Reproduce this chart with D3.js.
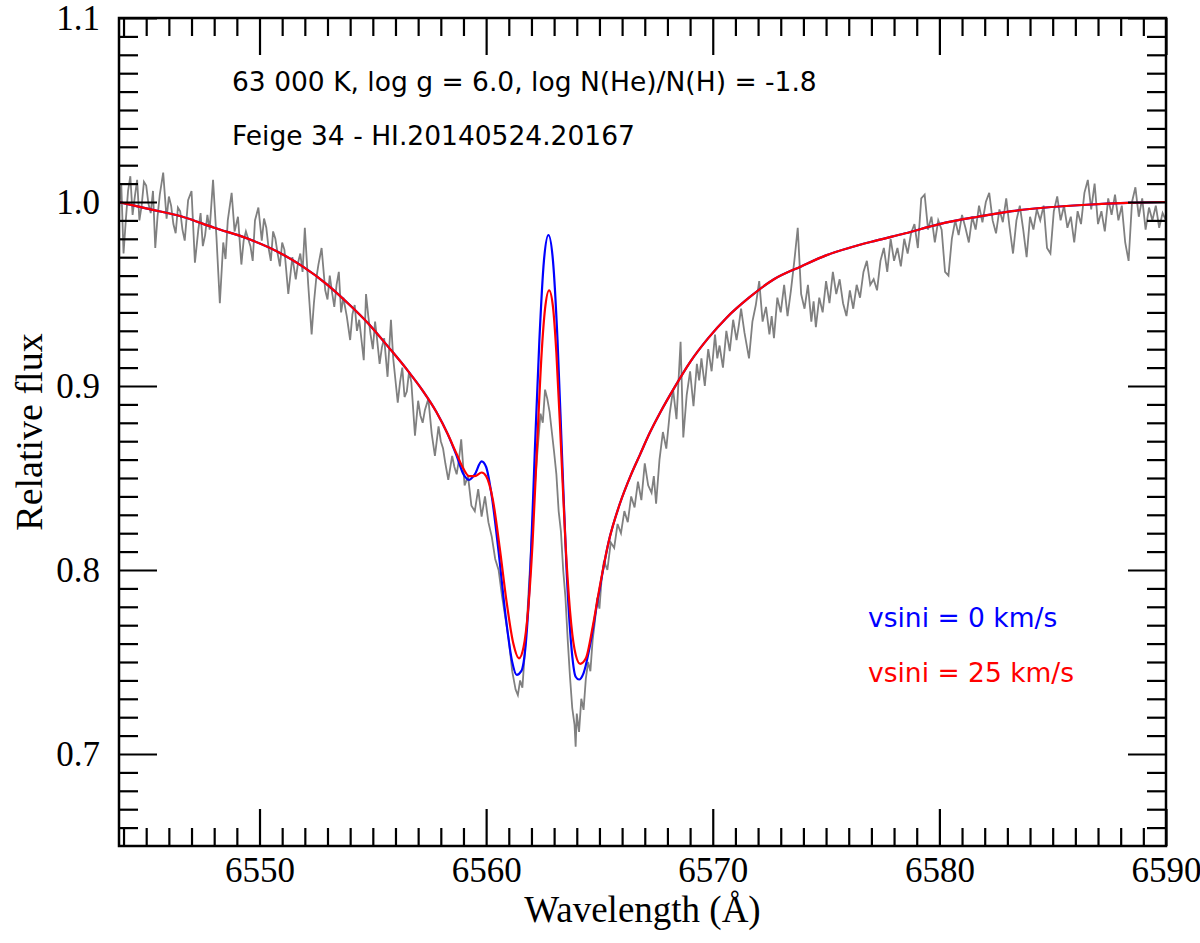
<!DOCTYPE html>
<html><head><meta charset="utf-8">
<script src="https://cdn.jsdelivr.net/npm/d3@7"></script>
<style>body{margin:0;background:#fff}svg{display:block}</style>
</head><body>
<script>
// ---- data ----
const xDomain = [6543.8, 6590];
const yDomain = [0.65, 1.1];
const xMajorTicks = [6550, 6560, 6570, 6580, 6590];
const yMajorTicks = [0.7, 0.8, 0.9, 1.0, 1.1];
const yTickLabels = ["0.7", "0.8", "0.9", "1.0", "1.1"];
const xLabel = "Wavelength (Å)";
const yLabel = "Relative flux";
const annotation1 = "63 000 K, log g = 6.0, log N(He)/N(H) = -1.8";
const annotation2 = "Feige 34 - HI.20140524.20167";
const legendLabels = ["vsini = 0 km/s", "vsini = 25 km/s"];

const observed = [
[6543.8,0.996],[6543.9,1.010],[6544.0,0.972],[6544.1,0.990],[6544.2,1.006],[6544.3,1.014],[6544.4,0.993],[6544.5,1.003],[6544.6,1.012],[6544.7,0.990],[6544.8,0.998],[6544.9,1.011],[6545.0,1.009],[6545.1,0.999],[6545.2,0.994],[6545.3,1.006],
[6545.4,0.975],[6545.5,0.992],[6545.6,1.004],[6545.75,1.016],[6545.9,0.991],[6546.0,1.003],[6546.1,0.998],[6546.2,0.988],[6546.3,0.983],[6546.4,0.997],[6546.5,0.995],[6546.6,0.985],[6546.7,0.979],
[6546.85,1.001],[6547.0,1.006],[6547.15,0.967],[6547.3,0.985],[6547.4,0.994],[6547.5,0.976],[6547.6,0.982],[6547.7,0.993],[6547.8,0.985],[6547.95,1.012],[6548.1,0.981],
[6548.25,0.945],[6548.4,0.978],[6548.5,0.969],[6548.6,0.990],[6548.77,1.005],[6548.9,0.984],[6549.05,0.992],[6549.2,0.966],[6549.3,0.979],[6549.4,0.984],
[6549.6,0.976],[6549.7,0.968],[6549.8,0.990],[6549.95,0.997],[6550.1,0.979],[6550.2,0.991],[6550.3,0.986],[6550.4,0.975],[6550.5,0.968],[6550.6,0.984],[6550.7,0.980],[6550.8,0.972],[6550.9,0.965],
[6551.0,0.978],[6551.1,0.974],[6551.27,0.950],[6551.45,0.970],[6551.6,0.958],[6551.7,0.967],[6551.8,0.972],[6551.9,0.962],[6552.0,0.986],[6552.15,0.955],[6552.3,0.928],
[6552.4,0.945],[6552.5,0.958],[6552.6,0.966],[6552.74,0.975],[6552.9,0.952],[6553.0,0.947],[6553.1,0.960],[6553.2,0.951],[6553.3,0.943],[6553.4,0.955],[6553.5,0.962],[6553.6,0.940],[6553.7,0.948],[6553.85,0.938],
[6554.0,0.925],[6554.1,0.939],[6554.2,0.944],[6554.3,0.930],[6554.4,0.936],[6554.5,0.925],[6554.6,0.914],[6554.7,0.950],[6554.8,0.938],[6554.9,0.928],[6555.0,0.920],[6555.1,0.935],[6555.2,0.924],[6555.3,0.912],
[6555.4,0.921],[6555.5,0.926],[6555.65,0.905],[6555.8,0.936],[6555.9,0.915],[6556.0,0.903],[6556.1,0.891],[6556.2,0.902],[6556.3,0.910],[6556.4,0.894],[6556.5,0.897],[6556.6,0.908],[6556.7,0.902],
[6556.86,0.873],[6557.0,0.892],[6557.1,0.884],[6557.2,0.880],[6557.3,0.887],[6557.45,0.893],[6557.6,0.874],[6557.74,0.862],[6557.9,0.878],[6558.0,0.870],[6558.1,0.866],[6558.2,0.858],
[6558.33,0.849],[6558.5,0.862],[6558.6,0.856],[6558.7,0.852],[6558.8,0.860],[6558.9,0.871],[6559.05,0.846],[6559.2,0.851],[6559.35,0.835],[6559.5,0.832],
[6559.65,0.844],[6559.8,0.829],[6559.95,0.840],[6560.1,0.826],[6560.25,0.818],[6560.4,0.806],[6560.55,0.800],[6560.7,0.786],
[6560.85,0.774],[6561.0,0.762],[6561.15,0.745],[6561.3,0.735],[6561.4,0.732],[6561.5,0.740],[6561.6,0.736],[6561.7,0.754],
[6561.8,0.772],[6561.9,0.794],[6562.0,0.815],[6562.1,0.838],[6562.2,0.854],[6562.3,0.870],[6562.4,0.885],[6562.5,0.880],
[6562.6,0.898],[6562.7,0.893],[6562.8,0.886],[6562.9,0.875],[6563.0,0.864],[6563.1,0.852],[6563.2,0.832],[6563.3,0.821],
[6563.4,0.800],[6563.5,0.785],[6563.6,0.762],[6563.7,0.742],[6563.8,0.725],[6563.9,0.716],[6563.95,0.704],[6564.0,0.722],
[6564.1,0.712],[6564.2,0.730],[6564.3,0.724],[6564.4,0.741],[6564.5,0.750],[6564.6,0.745],[6564.7,0.762],[6564.8,0.772],
[6564.9,0.785],[6565.0,0.779],[6565.1,0.796],[6565.2,0.805],[6565.35,0.800],[6565.5,0.815],[6565.65,0.812],[6565.8,0.825],
[6565.95,0.820],[6566.1,0.832],[6566.25,0.826],[6566.4,0.840],[6566.55,0.834],[6566.7,0.848],[6566.85,0.838],[6567.0,0.858],
[6567.15,0.846],[6567.3,0.842],[6567.4,0.851],[6567.5,0.836],[6567.65,0.860],[6567.8,0.875],[6567.95,0.866],[6568.1,0.885],[6568.25,0.898],
[6568.4,0.882],[6568.58,0.924],[6568.7,0.872],[6568.85,0.895],[6569.0,0.908],[6569.15,0.889],[6569.3,0.912],[6569.4,0.903],[6569.5,0.915],
[6569.65,0.900],[6569.8,0.920],[6569.95,0.908],[6570.1,0.928],[6570.2,0.915],[6570.3,0.922],[6570.45,0.910],[6570.6,0.930],[6570.75,0.919],
[6570.9,0.936],[6571.05,0.925],[6571.15,0.933],[6571.25,0.942],[6571.4,0.929],[6571.6,0.915],[6571.75,0.935],[6571.9,0.944],[6572.05,0.957],
[6572.2,0.935],[6572.35,0.943],[6572.5,0.928],[6572.6,0.938],[6572.7,0.926],[6572.85,0.948],[6573.0,0.940],[6573.15,0.955],[6573.3,0.938],
[6573.45,0.952],[6573.6,0.968],[6573.75,0.986],[6573.9,0.950],[6574.05,0.942],[6574.2,0.955],[6574.35,0.935],[6574.45,0.946],[6574.55,0.932],
[6574.7,0.948],[6574.85,0.940],[6575.0,0.957],[6575.15,0.945],[6575.3,0.962],[6575.45,0.950],[6575.6,0.958],[6575.75,0.945],
[6575.9,0.938],[6576.05,0.952],[6576.2,0.942],[6576.35,0.955],[6576.5,0.948],[6576.65,0.962],[6576.8,0.968],[6576.95,0.955],
[6577.1,0.958],[6577.25,0.952],[6577.4,0.968],[6577.55,0.975],[6577.7,0.962],[6577.85,0.980],[6578.0,0.968],[6578.15,0.975],
[6578.3,0.965],[6578.45,0.980],[6578.6,0.972],[6578.75,0.983],[6578.9,0.988],[6579.05,0.975],[6579.2,1.002],[6579.35,1.004],
[6579.5,0.985],[6579.65,0.992],[6579.8,0.978],[6579.95,0.990],[6580.1,0.985],[6580.25,0.962],[6580.4,0.960],[6580.55,0.980],
[6580.7,0.990],[6580.85,0.982],[6581.0,0.993],[6581.15,0.986],[6581.3,0.978],[6581.45,0.992],[6581.6,0.985],[6581.75,0.998],
[6581.9,0.989],[6582.05,1.000],[6582.2,1.005],[6582.35,0.990],[6582.5,0.983],[6582.65,0.996],[6582.8,0.989],[6582.95,1.002],
[6583.1,0.986],[6583.25,0.972],[6583.4,0.990],[6583.55,0.998],[6583.7,0.985],[6583.85,0.970],[6584.0,0.992],[6584.15,0.985],
[6584.3,0.996],[6584.45,0.990],[6584.6,0.998],[6584.75,0.975],[6584.9,0.972],[6585.05,0.995],[6585.2,1.003],[6585.35,0.990],
[6585.5,0.998],[6585.65,0.986],[6585.8,0.992],[6585.95,0.978],[6586.1,0.995],[6586.25,0.988],[6586.4,1.005],[6586.55,1.012],
[6586.7,0.996],[6586.85,1.010],[6587.0,0.988],[6587.15,0.995],[6587.3,0.984],[6587.45,1.002],[6587.6,0.993],[6587.75,1.004],
[6587.9,0.990],[6588.05,0.998],[6588.2,0.978],[6588.35,0.968],[6588.5,1.000],[6588.65,1.008],[6588.8,0.992],[6588.95,1.002],
[6589.1,0.985],[6589.25,0.997],[6589.4,0.990],[6589.55,0.998],[6589.7,0.986],[6589.85,0.994],[6590.0,0.990]
];

const modelV25 = [
[6543.8,1.000],[6545.0,0.9965],[6546.6,0.992],[6548.0,0.986],[6549.5,0.980],[6550.8,0.973],[6551.9,0.965],[6553.0,0.955],
[6553.9,0.945],[6554.8,0.934],[6555.7,0.921],[6556.5,0.909],[6557.2,0.8975],[6557.8,0.886],[6558.3,0.874],[6558.7,0.863],
[6559.0,0.855],[6559.25,0.851],[6559.5,0.851],[6559.8,0.853],[6560.0,0.851],[6560.3,0.838],[6560.6,0.812],[6560.9,0.783],
[6561.2,0.760],[6561.45,0.752],[6561.65,0.758],[6561.85,0.778],[6562.05,0.815],[6562.25,0.868],[6562.45,0.918],[6562.6,0.942],
[6562.78,0.952],[6562.95,0.943],[6563.1,0.918],[6563.3,0.868],[6563.5,0.815],[6563.7,0.778],[6563.9,0.757],[6564.15,0.749],
[6564.4,0.752],[6564.7,0.769],[6565.0,0.790],[6565.4,0.815],[6565.9,0.836],[6566.4,0.852],[6566.8,0.863],[6567.2,0.874],
[6567.7,0.886],[6568.3,0.899],[6569.0,0.913],[6569.8,0.926],[6570.6,0.937],[6571.6,0.948],[6572.7,0.958],[6573.9,0.965],
[6575.0,0.971],[6576.0,0.975],[6577.2,0.979],[6578.5,0.983],[6580.0,0.988],[6581.7,0.992],[6583.2,0.995],[6584.7,0.997],
[6586.5,0.9985],[6588.3,0.9995],[6590.0,1.000]
];

const modelV0 = [
[6543.8,1.000],[6545.0,0.9965],[6546.6,0.992],[6548.0,0.986],[6549.5,0.980],[6550.8,0.973],[6551.9,0.965],[6553.0,0.955],
[6553.9,0.945],[6554.8,0.934],[6555.7,0.921],[6556.5,0.909],[6557.2,0.8975],[6557.8,0.886],[6558.3,0.874],[6558.7,0.862],
[6559.0,0.852],[6559.25,0.849],[6559.5,0.852],[6559.8,0.859],[6560.0,0.856],[6560.25,0.840],[6560.55,0.810],[6560.85,0.776],
[6561.15,0.750],[6561.35,0.743],[6561.55,0.745],[6561.75,0.760],[6561.95,0.800],[6562.15,0.865],[6562.35,0.925],[6562.55,0.968],
[6562.75,0.982],[6562.95,0.968],[6563.15,0.925],[6563.35,0.862],[6563.55,0.800],[6563.75,0.760],[6563.95,0.742],[6564.1,0.7405],
[6564.3,0.744],[6564.6,0.760],[6564.9,0.782],[6565.4,0.815],[6565.9,0.836],[6566.4,0.852],[6566.8,0.863],[6567.2,0.874],
[6567.7,0.886],[6568.3,0.899],[6569.0,0.913],[6569.8,0.926],[6570.6,0.937],[6571.6,0.948],[6572.7,0.958],[6573.9,0.965],
[6575.0,0.971],[6576.0,0.975],[6577.2,0.979],[6578.5,0.983],[6580.0,0.988],[6581.7,0.992],[6583.2,0.995],[6584.7,0.997],
[6586.5,0.9985],[6588.3,0.9995],[6590.0,1.000]
];

// ---- drawing ----
const W = 1200, H = 943;
const L = 119, R = 1166, T = 18, B = 846;
const svg = d3.select("body").append("svg").attr("width", W).attr("height", H);

const x = d3.scaleLinear().domain(xDomain).range([L, R]);
const y = d3.scaleLinear().domain(yDomain).range([B, T]);

svg.append("defs").append("clipPath").attr("id", "clip")
  .append("rect").attr("x", L).attr("y", T).attr("width", R - L).attr("height", B - T);

const g = svg.append("g").attr("clip-path", "url(#clip)");
const line = d3.line().x(d => x(d[0])).y(d => y(d[1]));
const smooth = d3.line().x(d => x(d[0])).y(d => y(d[1])).curve(d3.curveMonotoneX);

g.append("path").datum(observed).attr("d", line)
  .attr("fill", "none").attr("stroke", "#808080").attr("stroke-width", 1.8);
g.append("path").datum(modelV0).attr("d", smooth)
  .attr("fill", "none").attr("stroke", "#0000ff").attr("stroke-width", 2.2);
g.append("path").datum(modelV25).attr("d", smooth)
  .attr("fill", "none").attr("stroke", "#ff0000").attr("stroke-width", 2.2);

// minor ticks
const xMinor = d3.range(6544, 6590.01, 1).filter(v => Math.abs(v % 10) > 1e-6);
const yMinor = d3.range(66, 110, 1).map(v => v / 100).filter(v => Math.abs(Math.round(v * 100) % 10) !== 0);

function styleAxis(sel) {
  sel.select(".domain").remove();
  sel.selectAll(".tick line").attr("stroke", "#000").attr("stroke-width", 2.2);
}

svg.append("g").attr("transform", `translate(0,${B})`)
  .call(d3.axisBottom(x).tickValues(xMinor).tickSize(-18).tickFormat(""))
  .call(styleAxis);
svg.append("g").attr("transform", `translate(0,${T})`)
  .call(d3.axisTop(x).tickValues(xMinor).tickSize(-18).tickFormat(""))
  .call(styleAxis);
svg.append("g").attr("transform", `translate(0,${T})`)
  .call(d3.axisTop(x).tickValues(xMajorTicks).tickSize(-37).tickFormat(""))
  .call(styleAxis);
const xb = svg.append("g").attr("transform", `translate(0,${B})`)
  .call(d3.axisBottom(x).tickValues(xMajorTicks).tickSize(-37).tickPadding(0).tickFormat(d3.format("d")))
  .call(styleAxis);
xb.selectAll(".tick text").attr("y", 0).attr("dy", null).attr("transform", "translate(0,36)")
  .attr("font-family", "'Liberation Serif','Times New Roman',serif").attr("font-size", 35).attr("fill", "#000");

svg.append("g").attr("transform", `translate(${L},0)`)
  .call(d3.axisLeft(y).tickValues(yMinor).tickSize(-19).tickFormat(""))
  .call(styleAxis);
svg.append("g").attr("transform", `translate(${R},0)`)
  .call(d3.axisRight(y).tickValues(yMinor).tickSize(-19).tickFormat(""))
  .call(styleAxis);
svg.append("g").attr("transform", `translate(${R},0)`)
  .call(d3.axisRight(y).tickValues(yMajorTicks).tickSize(-38).tickFormat(""))
  .call(styleAxis);
const yl = svg.append("g").attr("transform", `translate(${L},0)`)
  .call(d3.axisLeft(y).tickValues(yMajorTicks).tickSize(-38).tickFormat((d, i) => yTickLabels[i]))
  .call(styleAxis);
yl.selectAll(".tick text").attr("x", -19).attr("dy", "0.34em")
  .attr("font-family", "'Liberation Serif','Times New Roman',serif").attr("font-size", 35).attr("fill", "#000");

// frame
svg.append("rect").attr("x", L).attr("y", T).attr("width", R - L).attr("height", B - T)
  .attr("fill", "none").attr("stroke", "#000").attr("stroke-width", 2.5);

// axis labels
svg.append("text").attr("x", (L + R) / 2).attr("y", 922).attr("text-anchor", "middle")
  .attr("font-family", "'Liberation Serif','Times New Roman',serif").attr("font-size", 37).text(xLabel);
svg.append("text").attr("transform", `translate(42,${(T + B) / 2}) rotate(-90)`).attr("text-anchor", "middle")
  .attr("font-family", "'Liberation Serif','Times New Roman',serif").attr("font-size", 38).text(yLabel);

// annotations
const sans = "'DejaVu Sans', sans-serif";
svg.append("text").attr("x", 232).attr("y", 91).attr("font-family", sans).attr("font-size", 26.5).attr("fill", "#000").text(annotation1);
svg.append("text").attr("x", 232).attr("y", 145).attr("font-family", sans).attr("font-size", 26.5).attr("fill", "#000").text(annotation2);
svg.append("text").attr("x", 868).attr("y", 627).attr("font-family", sans).attr("font-size", 26.5).attr("fill", "#0000ff").text(legendLabels[0]);
svg.append("text").attr("x", 868).attr("y", 682).attr("font-family", sans).attr("font-size", 26.5).attr("fill", "#ff0000").text(legendLabels[1]);
</script>
</body></html>
